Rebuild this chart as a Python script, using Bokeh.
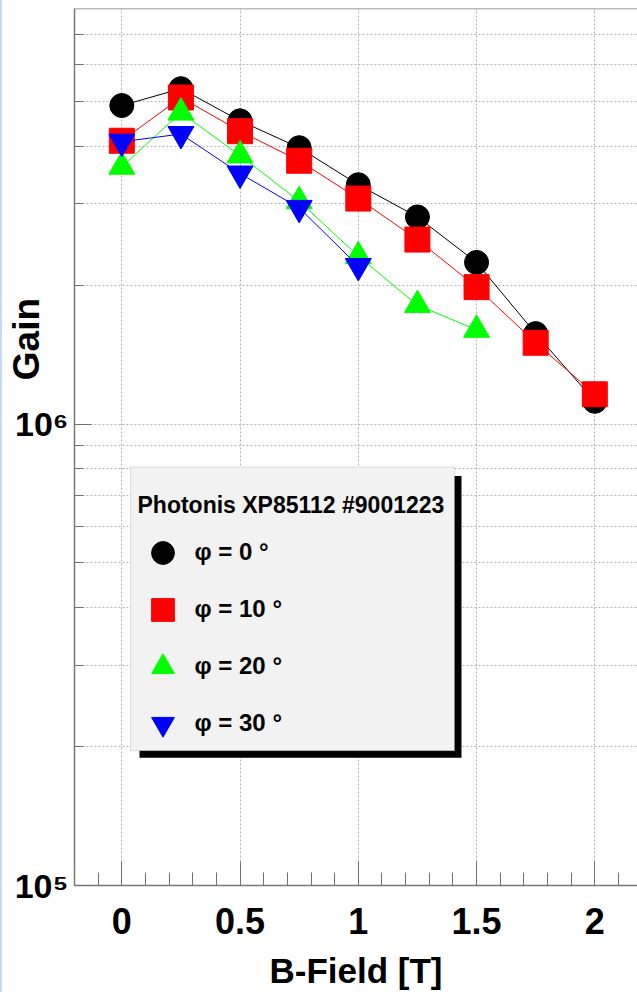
import math
from bokeh.plotting import figure
from bokeh.models import (Range1d, FixedTicker, SingleIntervalTicker, CustomJSTickFormatter,
                          Label, BoxAnnotation, Legend, LegendItem, Span)
from bokeh.embed import file_html
from bokeh.resources import INLINE

# ---------------- data ----------------
b_field_phi0 = [0, 0.25, 0.5, 0.75, 1.0, 1.25, 1.5, 1.75, 2.0]
gain_phi0 = [4.90e6, 5.33e6, 4.54e6, 3.97e6, 3.30e6, 2.81e6, 2.24e6, 1.57e6, 1.12e6]

b_field_phi10 = [0, 0.25, 0.5, 0.75, 1.0, 1.25, 1.5, 1.75, 2.0]
gain_phi10 = [4.11e6, 5.10e6, 4.31e6, 3.72e6, 3.08e6, 2.51e6, 1.98e6, 1.50e6, 1.16e6]

b_field_phi20 = [0, 0.25, 0.5, 0.75, 1.0, 1.25, 1.5]
gain_phi20 = [3.61e6, 4.73e6, 3.82e6, 3.04e6, 2.31e6, 1.81e6, 1.60e6]

b_field_phi30 = [0, 0.25, 0.5, 0.75, 1.0]
gain_phi30 = [4.09e6, 4.25e6, 3.49e6, 2.94e6, 2.20e6]

series_labels = ["\u03c6 = 0 \u00b0", "\u03c6 = 10 \u00b0", "\u03c6 = 20 \u00b0", "\u03c6 = 30 \u00b0"]
legend_title = "Photonis XP85112 #9001223"
x_title = "B-Field [T]"
y_title = "Gain"
y_major_ticks = [1e5, 1e6]
y_tick_labels = ["10\u2075", "10\u2076"]
y_minor_ticks = [2e5, 3e5, 4e5, 5e5, 6e5, 7e5, 8e5, 9e5, 2e6, 3e6, 4e6, 5e6, 6e6, 7e6]

# ---------------- layout ----------------
W, H = 637, 992
FL, FR, FT, FB = 74, 637, 8, 886
X0 = -0.2
X1 = X0 + (FR - FL) / 236.5
Y0 = 1e5
DEC = 462.0
Y1 = 10 ** (5 + (FB - FT) / DEC)

def xd(px):
    return X0 + (px - FL) * (X1 - X0) / (FR - FL)

def yd(py):
    return 10 ** (5 + (FB - py) / DEC)

FONT = "Liberation Sans"

p = figure(width=W, height=H, y_axis_type="log",
           x_range=Range1d(X0, X1), y_range=Range1d(Y0, Y1),
           output_backend="svg", toolbar_location=None,
           min_border_left=FL, min_border_right=0, min_border_top=FT,
           min_border_bottom=H - FB,
           stylesheets=[":host::after {content: ''; position: absolute; left: 0; top: 0; "
                        "width: 2px; height: 100%; background: #c4daf2; pointer-events: none;}"])
p.outline_line_color = None
p.background_fill_color = "white"
p.border_fill_color = "white"

# x axis
xt = SingleIntervalTicker(interval=0.5, num_minor_ticks=5)
p.xaxis.ticker = xt
p.xaxis.formatter = CustomJSTickFormatter(code="return (Math.round(tick*100)/100).toString();")
p.xaxis.axis_line_color = "#7a7a7a"
p.xaxis.axis_line_width = 1.5
p.xaxis.major_tick_in = 24
p.xaxis.major_tick_out = 0
p.xaxis.minor_tick_in = 13
p.xaxis.minor_tick_out = 0
p.xaxis.major_tick_line_color = "#707070"
p.xaxis.minor_tick_line_color = "#707070"
p.xaxis.major_label_text_font = FONT
p.xaxis.major_label_text_font_style = "bold"
p.xaxis.major_label_text_font_size = "36px"
p.xaxis.major_label_text_color = "black"
p.xaxis.major_label_standoff = 22
p.xaxis.axis_label = x_title
p.xaxis.axis_label_text_font = FONT
p.xaxis.axis_label_text_font_style = "bold"
p.xaxis.axis_label_text_font_size = "35px"
p.xaxis.axis_label_text_color = "black"
p.xaxis.axis_label_standoff = 14

# y axis
p.yaxis.ticker = FixedTicker(ticks=y_major_ticks, minor_ticks=y_minor_ticks)
p.yaxis.major_label_overrides = {t: s for t, s in zip(y_major_ticks, y_tick_labels)}
p.yaxis.axis_line_color = "#7a7a7a"
p.yaxis.axis_line_width = 1.5
p.yaxis.major_tick_in = 17
p.yaxis.major_tick_out = 0
p.yaxis.minor_tick_in = 9
p.yaxis.minor_tick_out = 0
p.yaxis.major_tick_line_color = "#707070"
p.yaxis.minor_tick_line_color = "#707070"
p.yaxis.major_label_text_font = FONT
p.yaxis.major_label_text_font_style = "bold"
p.yaxis.major_label_text_font_size = "34px"
p.yaxis.major_label_text_color = "black"
p.yaxis.major_label_standoff = 6
# label centred on the frame; leading no-break spaces lift the visible word up
p.yaxis.axis_label = "\u00a0" * 21 + y_title
p.yaxis.axis_label_text_font = FONT
p.yaxis.axis_label_text_font_style = "bold"
p.yaxis.axis_label_text_font_size = "37px"
p.yaxis.axis_label_text_color = "black"
p.yaxis.axis_label_standoff = -35

# grids
p.xgrid.ticker = xt
p.xgrid.grid_line_color = "#b0b0b0"
p.xgrid.grid_line_dash = "2 2"
p.ygrid.grid_line_color = "#b0b0b0"
p.ygrid.grid_line_dash = "2 2"
p.ygrid.minor_grid_line_color = "#b0b0b0"
p.ygrid.minor_grid_line_dash = "2 2"

# top frame line
p.add_layout(Span(location=Y1, dimension="width", line_color="#7a7a7a", line_width=1.5))

# series
specs = [
    (b_field_phi0, gain_phi0, "black", "circle", 24),
    (b_field_phi10, gain_phi10, "#ff0000", "square", 25),
    (b_field_phi20, gain_phi20, "#00ff00", "triangle", 26),
    (b_field_phi30, gain_phi30, "#0000ff", "inverted_triangle", 26),
]
items = []
for (xs, ys, col, mk, sz), lab in zip(specs, series_labels):
    p.line(xs, ys, line_color=col, line_width=1)
    r = p.scatter(xs, ys, marker=mk, size=sz, fill_color=col, line_color=col)
    items.append(LegendItem(label=lab, renderers=[r]))

# legend shadow + box
p.add_layout(BoxAnnotation(left=xd(139), right=xd(461), top=yd(476), bottom=yd(758),
                           fill_color="black", fill_alpha=1.0, line_color=None))
p.add_layout(BoxAnnotation(left=xd(130), right=xd(454), top=yd(467), bottom=yd(751),
                           fill_color="#f2f2f2", fill_alpha=1.0,
                           line_color="#9a9a9a", line_width=1))
p.add_layout(Label(x=xd(137), y=yd(505), text=legend_title, text_font=FONT,
                   text_font_style="bold", text_font_size="23px", text_color="black",
                   text_align="left", text_baseline="alphabetic"))

legend = Legend(items=items, location=(133.5 - FL, FB - 752.5),
                glyph_width=57, glyph_height=57, spacing=0, padding=0, margin=0,
                label_standoff=4, label_text_font=FONT, label_text_font_style="bold",
                label_text_font_size="24px", label_text_color="black",
                background_fill_alpha=0.0, border_line_alpha=0.0)
p.add_layout(legend)

open("out.html", "w").write(file_html(p, INLINE))
